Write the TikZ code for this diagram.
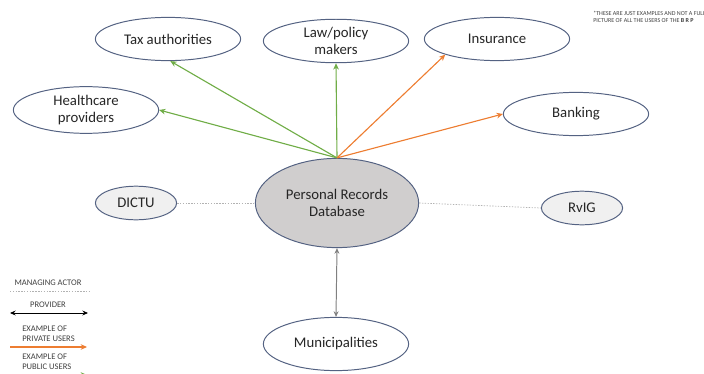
\documentclass[tikz,border=0pt]{standalone}
\usepackage{fontspec}
\setmainfont{Carlito}
\usepackage{xcolor}
\usetikzlibrary{shapes.geometric, arrows.meta, positioning, calc}

\definecolor{usergreen}{RGB}{112,173,71}
\definecolor{userorange}{RGB}{237,125,49}
\definecolor{rimblue}{RGB}{84,98,130}
\definecolor{dbgray}{RGB}{208,206,206}
\definecolor{legendgray}{RGB}{64,64,64}

\begin{document}
\begin{tikzpicture}[
            x=0.025cm, y=-0.025cm,
            actor/.style={ellipse, draw=rimblue, line width=0.7pt, fill=white, minimum width=3.63cm, minimum height=1.08cm, align=center, font=\fontsize{10.5}{12.5}\selectfont, text=black!85, inner sep=1pt},
            smallactor/.style={actor, minimum width=2.03cm, minimum height=0.84cm, fill=gray!12},
            public/.style={draw=usergreen, line width=0.8pt, -{Stealth[length=4.5pt, width=4pt]}},
            private/.style={draw=userorange, line width=0.8pt, -{Stealth[length=4.5pt, width=4pt]}},
            managing/.style={draw=gray!60, line width=0.5pt, dash pattern=on 1pt off 1pt},
            legendtext/.style={font=\fontsize{6.1}{7.2}\selectfont, text=legendgray, align=left, inner sep=0pt}
        ]
\useasboundingbox (0,0) rectangle (704,374);

% Central database
            \node[actor, fill=dbgray, minimum width=4.08cm, minimum height=2.23cm] (prd) at (337,203) {Personal Records\\Database};

% Users of the database
            \node[actor] (tax) at (168,39) {Tax authorities};
            \node[actor] (law) at (336,41) {Law/policy\\makers};
            \node[actor] (insurance) at (497,39) {Insurance};
            \node[actor] (health) at (86,110) {Healthcare\\providers};
            \node[actor] (banking) at (576,114) {Banking};

% Managing actors and provider
            \node[smallactor] (dictu) at (136,203) {DICTU};
            \node[smallactor] (rvig) at (582,208) {RvIG};
            \node[actor, minimum height=1.33cm] (municip) at (336,344) {Municipalities};

% Connectors
            \draw[public] (prd.north) -- (tax.-84);
            \draw[public] (prd.north) -- (health.east);
            \draw[public] (prd.north) -- (law.south);
            \draw[private] (prd.north) -- (insurance.south west);
            \draw[private] (prd.north) -- (banking.west);
            \draw[managing] (dictu.east) -- (prd.west);
            \draw[managing] (prd.east) -- (rvig.west);
            \draw[gray, line width=0.7pt, {Stealth[length=4pt, width=3.5pt]}-{Stealth[length=4pt, width=3.5pt]}] (prd.south) -- (municip.north);

% Legend
            \node[legendtext] (lg_managing) at (48,283) {MANAGING ACTOR};
            \coordinate (lg_m1) at (10,291);
            \coordinate (lg_m2) at (90,291);
            \draw[managing] (lg_m1) -- (lg_m2);

            \node[legendtext] (lg_provider) at (48,305) {PROVIDER};
            \coordinate (lg_p1) at (10,313);
            \coordinate (lg_p2) at (88,313);
            \draw[black, line width=0.7pt, {Stealth[length=4pt, width=3.5pt]}-{Stealth[length=4pt, width=3.5pt]}] (lg_p1) -- (lg_p2);

            \node[legendtext, anchor=west] (lg_private) at (22,334) {EXAMPLE OF\\PRIVATE USERS};
            \coordinate (lg_o1) at (10,347);
            \coordinate (lg_o2) at (87,347);
            \draw[private] (lg_o1) -- (lg_o2);

            \node[legendtext, anchor=west] (lg_public) at (22,362) {EXAMPLE OF\\PUBLIC USERS};
            \coordinate (lg_g1) at (10,375);
            \coordinate (lg_g2) at (87,375);
            \draw[public] (lg_g1) -- (lg_g2);

% Footnote
            \node[anchor=north west, font=\fontsize{4.3}{5}\selectfont, text=legendgray, align=left, inner sep=0pt] (note) at (593,11) {*THESE ARE JUST EXAMPLES AND NOT A FULL\\PICTURE OF ALL THE USERS OF THE \textbf{B R P}};

        \end{tikzpicture}
\end{document}
